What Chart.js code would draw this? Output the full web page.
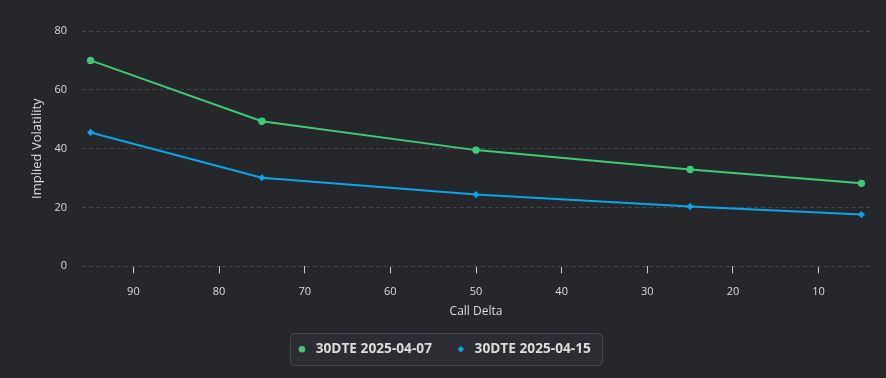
<!DOCTYPE html>
<html>
<head>
<meta charset="utf-8">
<script src="https://cdn.jsdelivr.net/npm/chart.js@4.4.1/dist/chart.umd.min.js"></script>
<style>
html,body{margin:0;padding:0;background:#26272b;}
#wrap{width:886px;height:378px;position:relative;}
</style>
</head>
<body>
<div id="wrap"><canvas id="c" width="886" height="378"></canvas></div>
<script>
const deltas = [95, 75, 50, 25, 5];
const series1Label = '30DTE 2025-04-07';
const series1 = [70.0, 49.3, 39.5, 32.9, 28.2];
const series2Label = '30DTE 2025-04-15';
const series2 = [45.5, 30.1, 24.4, 20.3, 17.6];
const xTicks = [90, 80, 70, 60, 50, 40, 30, 20, 10];
const yTicks = [0, 20, 40, 60, 80];

const legendBox = {
  id: 'legendBox',
  beforeDraw(chart) {
    const lg = chart.legend;
    if (!lg || !lg.legendHitBoxes || !lg.legendHitBoxes.length) return;
    const hb = lg.legendHitBoxes;
    const l = Math.min(...hb.map(h => h.left)) - 5;
    const r = Math.max(...hb.map(h => h.left + h.width)) + 11;
    const t = Math.min(...hb.map(h => h.top)) - 9;
    const b = Math.max(...hb.map(h => h.top + h.height)) + 9;
    const ctx = chart.ctx;
    ctx.save();
    ctx.beginPath();
    ctx.roundRect(Math.round(l) + 0.5, Math.round(t) + 0.5, Math.round(r - l), Math.round(b - t), 4);
    ctx.fillStyle = '#2c2d32';
    ctx.fill();
    ctx.strokeStyle = '#47484d';
    ctx.lineWidth = 1;
    ctx.stroke();
    ctx.restore();
  }
};

new Chart(document.getElementById('c'), {
  type: 'line',
  data: {
    datasets: [
      {
        label: series1Label,
        data: deltas.map((d, i) => ({x: d, y: series1[i]})),
        borderColor: '#3dcb74',
        backgroundColor: '#3dcb74',
        borderWidth: 2,
        pointStyle: 'circle',
        pointRadius: 3.7,
        pointBorderWidth: 0,
        pointHoverRadius: 3.7,
        tension: 0
      },
      {
        label: series2Label,
        data: deltas.map((d, i) => ({x: d, y: series2[i]})),
        borderColor: '#09a6e8',
        backgroundColor: '#09a6e8',
        borderWidth: 2,
        pointStyle: 'rectRot',
        pointRadius: 3.6,
        pointBorderWidth: 0,
        pointHoverRadius: 3.6,
        tension: 0
      }
    ]
  },
  plugins: [legendBox],
  options: {
    responsive: false,
    animation: false,
    layout: {padding: {left: 0, right: 0, top: 31, bottom: 12}},
    plugins: {
      tooltip: {enabled: false},
      legend: {
        position: 'bottom',
        labels: {
          usePointStyle: true,
          boxWidth: 14,
          boxHeight: 4.6,
          padding: 22,
          color: '#dcdcdc',
          font: {family: 'Open Sans', size: 13.7, weight: 'bold'}
        }
      }
    },
    scales: {
      x: {
        type: 'linear',
        reverse: true,
        min: 4,
        max: 96,
        afterBuildTicks(axis) { axis.ticks = xTicks.map(v => ({value: v})); },
        afterFit(axis) { axis.height = 54; },
        grid: {display: true, drawOnChartArea: false, drawTicks: true, tickLength: 7, color: '#cfcfcf', tickWidth: 1},
        border: {display: false},
        ticks: {color: '#dcdcdc', font: {family: 'Open Sans', size: 11}, padding: 12, maxRotation: 0},
        title: {display: true, text: 'Call Delta', color: '#dcdcdc', font: {family: 'Open Sans', size: 12, lineHeight: 1.0}, padding: {top: 0, bottom: 3}}
      },
      y: {
        min: 0,
        max: 80,
        afterBuildTicks(axis) { axis.ticks = yTicks.map(v => ({value: v})); },
        afterFit(axis) { axis.width = 82; },
        grid: {color: '#46474c', drawTicks: false, tickLength: 0},
        border: {display: false, dash: [4, 3]},
        ticks: {color: '#dcdcdc', font: {family: 'Open Sans', size: 11}, padding: 15},
        title: {display: true, text: 'Implied Volatility', color: '#dcdcdc', font: {family: 'Open Sans', size: 13}, padding: {top: 29, bottom: 0}}
      },
      yRight: {
        position: 'right',
        display: true,
        min: 0,
        max: 80,
        afterFit(axis) { axis.width = 16; },
        grid: {display: false, drawTicks: false},
        border: {display: false},
        ticks: {display: false},
        title: {display: false}
      }
    }
  }
});
</script>
</body>
</html>
